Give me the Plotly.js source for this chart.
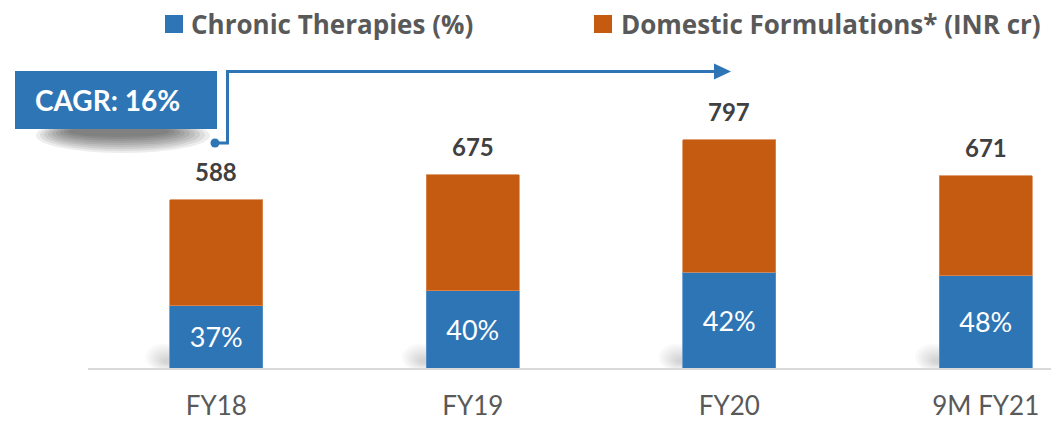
<!DOCTYPE html>
<html><head><meta charset="utf-8">
<script src="https://cdn.plot.ly/plotly-3.0.1.min.js"></script>
<style>html,body{margin:0;padding:0;background:#fff;overflow:hidden}</style>
</head><body><div id="chart" style="width:1051px;height:421px"></div>
<script>
const categories = ['FY18', 'FY19', 'FY20', '9M FY21'];
const totals = [588, 675, 797, 671];
const chronicShare = [37, 40, 42, 48];
const legendLabels = ['Chronic Therapies (%)', 'Domestic Formulations* (INR cr)'];
const cagrLabel = 'CAGR: 16%';

const chronicVals = totals.map((t, i) => t * chronicShare[i] / 100);
const otherVals = totals.map((t, i) => t - chronicVals[i]);

const BLUE = '#2E75B6', ORANGE = '#C55A11';
const W = 1051, H = 421, L = 88, B = 53, T = 0;
const PW = W - L, PH = H - B - T;
const px = x => (x - L) / PW;
const py = y => 1 - (y - T) / PH;
const FONT = 'Lato, "Open Sans", sans-serif';
const LFONT = '"Open Sans", Lato, sans-serif';

const traces = [
  {
    type: 'bar', x: categories, y: chronicVals, width: 0.3626,
    marker: {color: BLUE, line: {color: '#5B94C8', width: 0.8}},
    text: chronicShare.map(v => v + '%'), textposition: 'inside',
    insidetextanchor: 'middle', constraintext: 'none',
    textfont: {family: FONT, size: 27, color: '#FFFFFF'},
    hoverinfo: 'none', showlegend: false
  },
  {
    type: 'bar', x: categories, y: otherVals, width: 0.3626,
    marker: {color: ORANGE, line: {color: '#DC8A55', width: 0.8}},
    textposition: 'none', hoverinfo: 'none', showlegend: false
  }
];

const shapes = [];
// soft shadows at bar bases
categories.forEach((c, i) => {
  for (let k = 0; k < 7; k++) {
    shapes.push({type: 'circle', xref: 'x', yref: 'y', layer: 'below',
      x0: i - 0.181 - 0.095 + k * 0.011, x1: i - 0.181 + 0.05 - k * 0.004,
      y0: -10 + k * 4, y1: 85 - k * 8,
      fillcolor: 'rgba(0,0,0,0.022)', line: {width: 0}});
  }
});
// CAGR box shadow
for (let k = 0; k < 9; k++) {
  shapes.push({type: 'circle', xref: 'paper', yref: 'paper', layer: 'above',
    x0: px(36 + k * 4), x1: px(210 - k * 5), y0: py(118 + k), y1: py(153 - k * 2),
    fillcolor: 'rgba(0,0,0,0.07)', line: {width: 0}});
}
// CAGR box
shapes.push({type: 'rect', xref: 'paper', yref: 'paper', layer: 'above',
  x0: px(15), x1: px(217), y0: py(129), y1: py(71),
  fillcolor: BLUE, line: {width: 0}});
// arrow
shapes.push({type: 'path', xref: 'paper', yref: 'paper', layer: 'above',
  path: `M ${px(215)},${py(143)} L ${px(227.5)},${py(143)} L ${px(227.5)},${py(71.5)} L ${px(716)},${py(71.5)}`,
  line: {color: BLUE, width: 3}});
shapes.push({type: 'path', xref: 'paper', yref: 'paper', layer: 'above',
  path: `M ${px(714)},${py(63.5)} L ${px(731)},${py(71.5)} L ${px(714)},${py(79.5)} Z`,
  fillcolor: BLUE, line: {width: 0}});
shapes.push({type: 'circle', xref: 'paper', yref: 'paper', layer: 'above',
  x0: px(210.5), x1: px(219.5), y0: py(147.5), y1: py(138.5),
  fillcolor: BLUE, line: {width: 0}});
// legend swatches
shapes.push({type: 'rect', xref: 'paper', yref: 'paper', x0: px(165), x1: px(183), y0: py(33), y1: py(15), fillcolor: BLUE, line: {width: 0}});
shapes.push({type: 'rect', xref: 'paper', yref: 'paper', x0: px(594), x1: px(612), y0: py(33), y1: py(15), fillcolor: ORANGE, line: {width: 0}});

const annotations = [];
categories.forEach((c, i) => {
  annotations.push({x: c, y: totals[i], xref: 'x', yref: 'y', text: String(totals[i]),
    showarrow: false, yanchor: 'middle', yshift: 28,
    font: {family: FONT, size: 24, color: '#404040', weight: 'bold'}});
});
annotations.push({xref: 'paper', yref: 'paper', x: px(189), y: py(24), xanchor: 'left', yanchor: 'middle',
  text: legendLabels[0], showarrow: false, font: {family: LFONT, size: 26, color: '#595959', weight: 'bold'}});
annotations.push({xref: 'paper', yref: 'paper', x: px(619), y: py(24), xanchor: 'left', yanchor: 'middle',
  text: legendLabels[1], showarrow: false, font: {family: LFONT, size: 26, color: '#595959', weight: 'bold'}});
annotations.push({xref: 'paper', yref: 'paper', x: px(33), y: py(100), xanchor: 'left', yanchor: 'middle',
  text: cagrLabel, showarrow: false, font: {family: FONT, size: 28, color: '#FFFFFF', weight: 'bold'}});

const layout = {
  width: W, height: H,
  margin: {l: L, r: 0, t: T, b: B, pad: 0},
  paper_bgcolor: '#FFFFFF', plot_bgcolor: 'rgba(0,0,0,0)',
  barmode: 'stack', showlegend: false,
  xaxis: {type: 'category', range: [-0.5, -0.5 + PW / 256.5], showline: true,
    linecolor: '#D9D9D9', linewidth: 2, ticks: '', showgrid: false, zeroline: false,
    ticklabelstandoff: 14,
    tickfont: {family: FONT, size: 26, color: '#595959'}, fixedrange: true},
  yaxis: {range: [0, PH / 0.2862], visible: false, fixedrange: true},
  shapes: shapes, annotations: annotations
};

Plotly.newPlot('chart', traces, layout, {displayModeBar: false, staticPlot: true});
</script></body></html>
